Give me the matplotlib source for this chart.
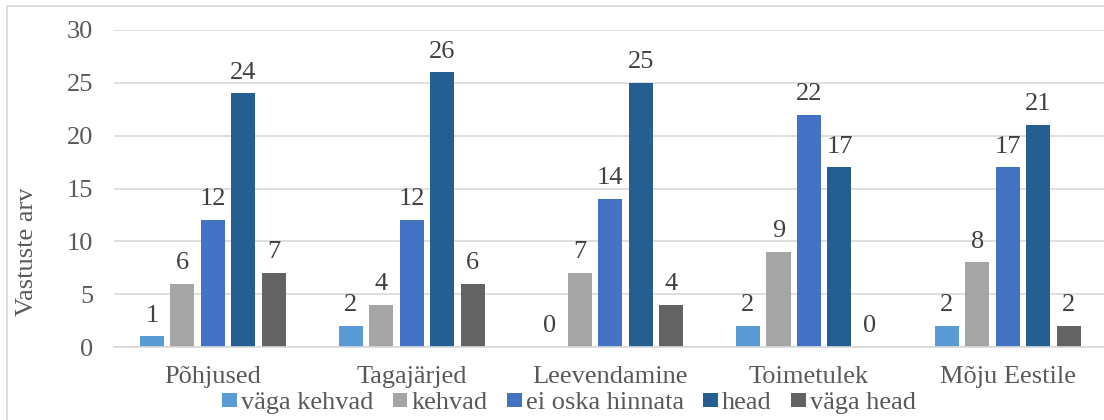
import matplotlib
matplotlib.use("Agg")
import matplotlib.pyplot as plt
from matplotlib.patches import Rectangle
import numpy as np

categories = ["Põhjused", "Tagajärjed", "Leevendamine", "Toimetulek", "Mõju Eestile"]
series_names = ["väga kehvad", "kehvad", "ei oska hinnata", "head", "väga head"]
vaga_kehvad = [1, 2, 0, 2, 2]
kehvad = [6, 4, 7, 9, 8]
ei_oska = [12, 12, 14, 22, 17]
head = [24, 26, 25, 17, 21]
vaga_head = [7, 6, 4, 0, 2]
series_values = [vaga_kehvad, kehvad, ei_oska, head, vaga_head]
colors = ["#5B9BD5", "#A5A5A5", "#4472C4", "#255E91", "#636363"]
yticks = [0, 5, 10, 15, 20, 25, 30]

plt.rcParams["font.family"] = ["Liberation Serif", "DejaVu Serif"]
text_color = "#595959"
fs = 19

fig = plt.figure(figsize=(11.04, 4.2), dpi=100)
ax = fig.add_axes([113.6 / 1104, 1 - 347 / 420, (1107 - 113.6) / 1104, (347 - 30) / 420])

x = np.arange(len(categories))
step = 0.1535
width = 0.121
for i, (name, vals, c) in enumerate(zip(series_names, series_values, colors)):
    pos = x + (i - 2) * step
    ax.bar(pos, vals, width=width, color=c, label=name, zorder=3)
    for xp, v in zip(pos, vals):
        ax.annotate(str(v), (xp, v), xytext=(0, 7), textcoords="offset points",
                    ha="center", va="bottom", fontsize=fs, color="#404040")

ax.set_xlim(-0.5, len(categories) - 0.5)
ax.set_ylim(0, 30)
ax.set_yticks(yticks)
ax.set_xticks(x)
ax.set_xticklabels(categories)
ax.tick_params(axis="both", length=0, labelsize=fs, colors=text_color)
ax.tick_params(axis="y", pad=14.8)
ax.tick_params(axis="x", pad=14)
ax.yaxis.grid(True, color="#D9D9D9", linewidth=1.2, zorder=0)
for s in ["top", "right", "left"]:
    ax.spines[s].set_visible(False)
ax.spines["bottom"].set_color("#D9D9D9")
ax.spines["bottom"].set_linewidth(1.2)
ax.spines["bottom"].set_zorder(4)

fig.text(27 / 1104, 1 - 252 / 420, "Vastuste arv", rotation=90, ha="center", va="center",
         fontsize=fs, color=text_color)

leg = fig.legend(loc="center", bbox_to_anchor=(569 / 1104, 1 - 403 / 420), ncol=5,
                 frameon=False, fontsize=fs, handlelength=0.55, handleheight=0.45,
                 handletextpad=0.15, columnspacing=0.75, labelcolor=text_color,
                 borderpad=0, borderaxespad=0)

fig.patches.append(Rectangle((6.5 / 1104, -0.05), 1.2, 1 - 6.5 / 420 + 0.05,
                             transform=fig.transFigure, fill=False,
                             edgecolor="#D9D9D9", linewidth=1.2))

fig.savefig("out.png", dpi=100)
